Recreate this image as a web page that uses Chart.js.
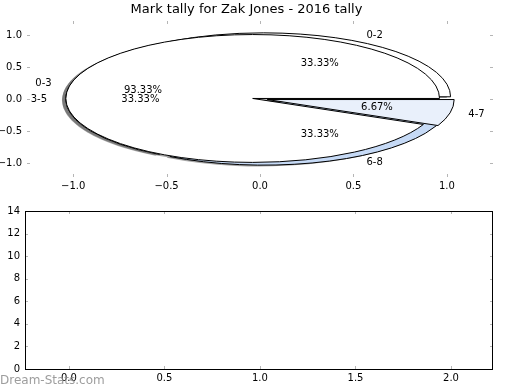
<!DOCTYPE html>
<html>
<head>
<meta charset="utf-8">
<script src="https://cdn.jsdelivr.net/npm/chart.js@4/dist/chart.umd.min.js"></script>
<style>
    body { margin: 0; background: #fff; }
    #wrap { position: relative; width: 520px; height: 390px; }
    canvas { position: absolute; left: 0; }
    #pieChart { top: 0; }
    #barChart { top: 200px; }
    #mark {
        position: absolute; left: 0; top: 373px;
        font: 12px "DejaVu Sans", sans-serif;
        color: rgba(140, 140, 140, 0.85);
    }
</style>
</head>
<body>
<div id="wrap">
    <canvas id="pieChart" width="520" height="200"></canvas>
    <canvas id="barChart" width="520" height="190"></canvas>
    <div id="mark">Dream-Stats.com</div>
</div>
<script>
// outer pie (drawn first)
const outerLabels = ["0-2", "3-5", "6-8"];
const outerValues = [1, 1, 1];
const outerColors = ["#ffffff", "#ffffff", "#c6daf6"];

// inner pie (drawn on top)
const innerLabels = ["0-3", "4-7"];
const innerValues = [14, 1];
const innerColors = ["#ffffff", "#e9f0fb"];

const explode = 0.04;

const pieXTicks = [-1, -0.5, 0, 0.5, 1];
const pieYTicks = [-1, -0.5, 0, 0.5, 1];
const barXTicks = [0, 0.5, 1, 1.5, 2];
const barYTicks = [0, 2, 4, 6, 8, 10, 12, 14];

Chart.defaults.font.family = "'DejaVu Sans', sans-serif";
Chart.defaults.font.size = 10;
Chart.defaults.color = "#000";

function fmt1(v) {
    return (v < 0 ? "\u2212" : "") + Math.abs(v).toFixed(1);
}

function buildWedges(labels, values, colors) {
    const total = values.reduce((s, v) => s + v, 0);
    let start = 0;
    return values.map((v, i) => {
        const end = start + 360 * v / total;
        const mid = (start + end) / 2 * Math.PI / 180;
        const w = {
            label: labels[i],
            pct: (100 * v / total).toFixed(2) + "%",
            color: colors[i],
            a1: start * Math.PI / 180,
            a2: end * Math.PI / 180,
            mid: mid,
            dx: explode * Math.cos(mid),
            dy: explode * Math.sin(mid)
        };
        start = end;
        return w;
    });
}

const tickMarks = {
    id: "tickMarks",
    afterDraw(chart) {
        const ctx = chart.ctx;
        const a = chart.chartArea;
        const x = chart.scales.x, y = chart.scales.y;
        ctx.save();
        ctx.strokeStyle = "#b5b5b5";
        ctx.lineWidth = 1;
        ctx.beginPath();
        x.ticks.forEach(t => {
            const px = Math.round(x.getPixelForValue(t.value)) + 0.5;
            ctx.moveTo(px, a.top); ctx.lineTo(px, a.top + 3);
            ctx.moveTo(px, a.bottom); ctx.lineTo(px, a.bottom - 3);
        });
        y.ticks.forEach(t => {
            const py = Math.round(y.getPixelForValue(t.value)) + 0.5;
            ctx.moveTo(a.left, py); ctx.lineTo(a.left + 3, py);
            ctx.moveTo(a.right, py); ctx.lineTo(a.right - 3, py);
        });
        ctx.stroke();
        ctx.restore();
    }
};

const piePlugin = {
    id: "ellipsePie",
    afterDatasetsDraw(chart) {
        const ctx = chart.ctx;
        const x = chart.scales.x, y = chart.scales.y;
        const rx = x.getPixelForValue(1) - x.getPixelForValue(0);
        const ry = y.getPixelForValue(0) - y.getPixelForValue(1);
        const outer = buildWedges(outerLabels, outerValues, outerColors);
        const inner = buildWedges(innerLabels, innerValues, innerColors);
        const all = outer.concat(inner);

        function path(w, ox, oy) {
            const cx = x.getPixelForValue(w.dx + ox);
            const cy = y.getPixelForValue(w.dy + oy);
            ctx.beginPath();
            ctx.moveTo(cx, cy);
            ctx.ellipse(cx, cy, rx, ry, 0, -w.a1, -w.a2, true);
            ctx.closePath();
        }

        ctx.save();
        // shadows
        all.forEach(w => {
            path(w, -0.02, -0.02);
            ctx.fillStyle = "rgba(77,77,77,0.5)";
            ctx.fill();
        });
        // wedges
        all.forEach(w => {
            path(w, 0, 0);
            ctx.fillStyle = w.color;
            ctx.fill();
            ctx.strokeStyle = "#000";
            ctx.lineWidth = 1;
            ctx.stroke();
        });
        // labels
        ctx.fillStyle = "#000";
        ctx.font = "10px 'DejaVu Sans', sans-serif";
        ctx.textBaseline = "middle";
        all.forEach(w => {
            const lx = 1.1 * Math.cos(w.mid) + w.dx;
            const ly = 1.1 * Math.sin(w.mid) + w.dy;
            ctx.textAlign = lx > 0 ? "left" : "right";
            ctx.fillText(w.label, x.getPixelForValue(lx), y.getPixelForValue(ly));
            const tx = 0.6 * Math.cos(w.mid) + w.dx;
            const ty = 0.6 * Math.sin(w.mid) + w.dy;
            ctx.textAlign = "center";
            ctx.fillText(w.pct, x.getPixelForValue(tx), y.getPixelForValue(ty));
        });
        ctx.restore();
    }
};

const frame = {
    id: "frame",
    afterDraw(chart) {
        const a = chart.chartArea;
        const ctx = chart.ctx;
        ctx.save();
        ctx.strokeStyle = "#000";
        ctx.lineWidth = 1;
        ctx.strokeRect(a.left + 0.5, a.top + 0.5, a.right - a.left - 1, a.bottom - a.top);
        ctx.restore();
    }
};

function axis(min, max, tickList, size, pad) {
    return {
        type: "linear",
        min: min,
        max: max,
        offset: false,
        afterBuildTicks: s => { s.ticks = tickList.map(v => ({ value: v })); },
        afterFit: s => {
            if (s.isHorizontal()) s.height = size; else s.width = size;
        },
        grid: { display: false, drawTicks: false },
        border: { display: false },
        ticks: { autoSkip: false, maxRotation: 0, padding: pad, color: "#000" }
    };
}

const pieX = axis(-1.247, 1.247, pieXTicks, 23, 3);
pieX.ticks.callback = v => fmt1(v);
const pieY = axis(-1.22, 1.22, pieYTicks, 27, 5);
pieY.ticks.callback = v => fmt1(v);

new Chart(document.getElementById("pieChart"), {
    type: "scatter",
    data: { datasets: [{ data: [] }] },
    options: {
        responsive: false,
        animation: false,
        layout: { padding: { left: 0, right: 27, top: 0, bottom: 0 } },
        plugins: {
            legend: { display: false },
            tooltip: { enabled: false },
            title: {
                display: true,
                text: "Mark tally for Zak Jones - 2016 tally",
                color: "#000",
                font: { size: 13, weight: "normal" },
                padding: { top: 2.2, bottom: 3.2 }
            }
        },
        scales: { x: pieX, y: pieY }
    },
    plugins: [piePlugin, tickMarks]
});

const barX = axis(-0.23, 2.22, barXTicks, 21, 3);
barX.ticks.callback = v => v.toFixed(1);
const barY = axis(0, 14, barYTicks, 25, 5);
barY.ticks.callback = v => v;

new Chart(document.getElementById("barChart"), {
    type: "scatter",
    data: { datasets: [{ data: [] }] },
    options: {
        responsive: false,
        animation: false,
        layout: { padding: { left: 0, right: 27, top: 10, bottom: 0 } },
        plugins: {
            legend: { display: false },
            tooltip: { enabled: false }
        },
        scales: { x: barX, y: barY }
    },
    plugins: [tickMarks, frame]
});
</script>
</body>
</html>
